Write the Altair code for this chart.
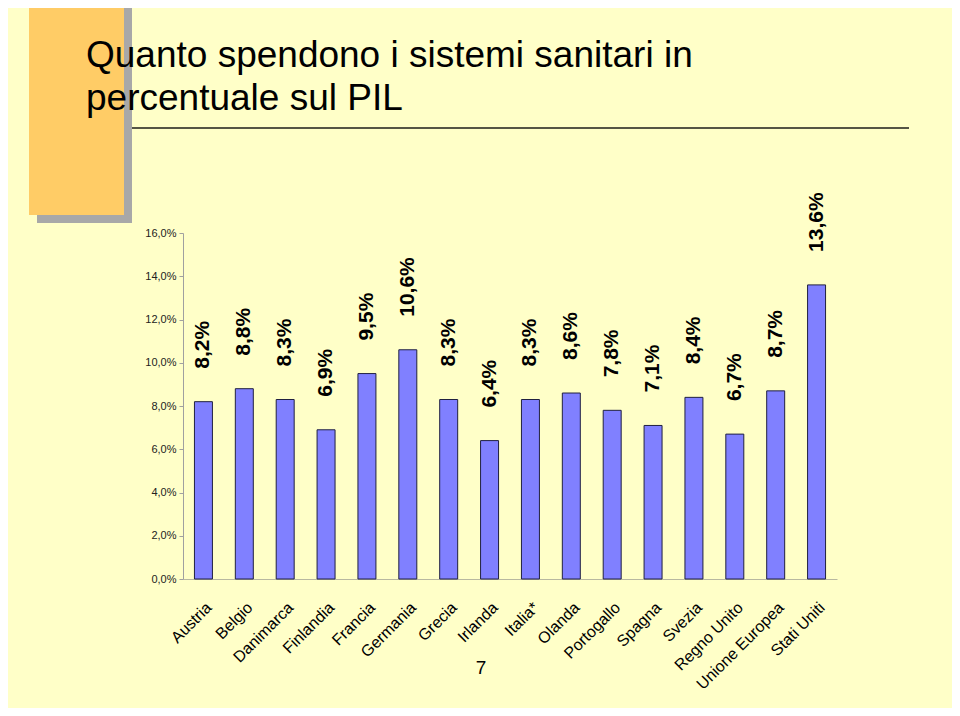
import altair as alt
import pandas as pd

countries = ["Austria", "Belgio", "Danimarca", "Finlandia", "Francia", "Germania",
             "Grecia", "Irlanda", "Italia*", "Olanda", "Portogallo", "Spagna",
             "Svezia", "Regno Unito", "Unione Europea", "Stati Uniti"]
values = [8.2, 8.8, 8.3, 6.9, 9.5, 10.6, 8.3, 6.4, 8.3, 8.6, 7.8, 7.1, 8.4, 6.7, 8.7, 13.6]
y_ticks = [0, 2, 4, 6, 8, 10, 12, 14, 16]
title_lines = ["Quanto spendono i sistemi sanitari in", "percentuale sul PIL"]
page_number = "7"

FONT = "Liberation Sans"
BG = "#FFFFC8"

df = pd.DataFrame({"paese": countries, "valore": values})
one = pd.DataFrame({"k": [0]})

x_enc = alt.X("paese:N", sort=countries,
              scale=alt.Scale(paddingInner=0.56, paddingOuter=0.28),
              axis=alt.Axis(title=None, labelAngle=-45, labelAlign="right",
                            labelBaseline="top", labelFontSize=16, labelFont=FONT,
                            labelColor="#000000", labelPadding=20, ticks=False,
                            domainColor="#B8B8A0", domainWidth=1, labelOverlap=False))

bars = alt.Chart(df).mark_bar(color="#8080FF", stroke="#202040", strokeWidth=1).encode(
    x=x_enc,
    y=alt.Y("valore:Q", scale=alt.Scale(domain=[0, 16], nice=False),
            axis=alt.Axis(title=None, values=y_ticks, grid=False,
                          labelExpr="replace(format(datum.value, '.1f'), '.', ',') + '%'",
                          labelFont=FONT, labelFontSize=11, labelColor="#222222",
                          tickSize=4, tickColor="#A0A0A0", labelPadding=3,
                          domainColor="#A0A0A0", domainWidth=1)),
)

labels = alt.Chart(df).transform_calculate(
    lab="replace(format(datum.valore, '.1f'), '.', ',') + '%'"
).mark_text(angle=270, align="left", baseline="middle", dx=33,
            font=FONT, fontSize=21, fontWeight="bold", color="#000000").encode(
    x=alt.X("paese:N", sort=countries),
    y=alt.Y("valore:Q"),
    text="lab:N",
)

shadow = alt.Chart(one).mark_rect(color="#A8A8A8").encode(
    x=alt.value(-146), x2=alt.value(-51), y=alt.value(-225), y2=alt.value(-10))
orange = alt.Chart(one).mark_rect(color="#FFCC66").encode(
    x=alt.value(-154), x2=alt.value(-59), y=alt.value(-225), y2=alt.value(-18))
title = alt.Chart(one).mark_text(align="left", baseline="alphabetic", font=FONT,
                                 fontSize=37, color="#000000", lineHeight=43).encode(
    x=alt.value(-97), y=alt.value(-166), text=alt.value(title_lines))
hline = alt.Chart(one).mark_rule(color="#555544", strokeWidth=2).encode(
    x=alt.value(-51), x2=alt.value(726), y=alt.value(-105))
pnum = alt.Chart(one).mark_text(align="center", baseline="middle", font=FONT,
                                fontSize=19, color="#000000").encode(
    x=alt.value(298), y=alt.value(435), text=alt.value(page_number))

chart = alt.layer(shadow, orange, title, hline, bars, labels, pnum).properties(
    width=654, height=346,
    autosize=alt.AutoSizeParams(type="none"),
    padding={"left": 175, "top": 225, "right": 115, "bottom": 129},
    background=BG,
).configure_view(stroke=None)

chart.save("out.html", embed_options={"renderer": "svg", "actions": False})
